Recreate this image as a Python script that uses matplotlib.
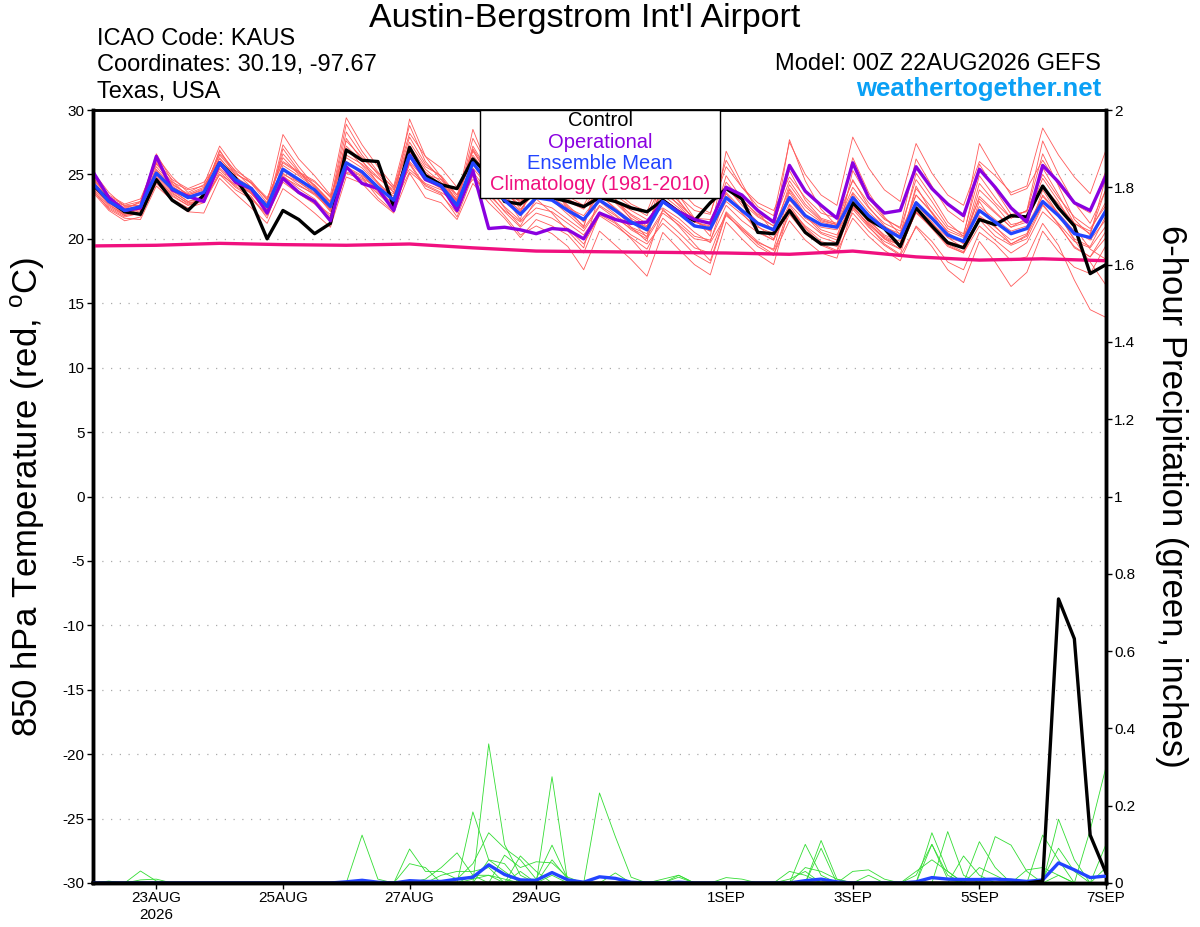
import numpy as np
import matplotlib
matplotlib.use("Agg")
import matplotlib.pyplot as plt
from matplotlib.patches import Rectangle

plt.rcParams['font.family'] = ['Liberation Sans', 'DejaVu Sans']
plt.rcParams['axes.unicode_minus'] = False

# 6-hourly steps from 22AUG 00Z to 7SEP 00Z
steps = np.arange(65)
tick_pos = [4, 12, 20, 28, 40, 48, 56, 64]
tick_lab = ['23AUG\n2026', '25AUG', '27AUG', '29AUG', '1SEP', '3SEP', '5SEP', '7SEP']

# 850 hPa temperature (C)
control_t = [24.2, 23.0, 22.1, 21.9, 24.6, 23.0, 22.2, 23.4, 25.9, 24.7, 22.9, 20.0, 22.2, 21.5, 20.4, 21.2,
             26.9, 26.1, 26.0, 22.5, 27.1, 24.9, 24.2, 23.9, 26.2, 24.9, 22.9, 22.7, 23.6, 23.2, 22.9, 22.5,
             23.2, 22.9, 22.4, 22.1, 23.0, 22.1, 21.4, 22.8, 23.9, 23.1, 20.5, 20.4, 22.2, 20.5, 19.6, 19.6,
             22.8, 21.5, 20.8, 19.4, 22.4, 21.0, 19.7, 19.3, 21.5, 21.1, 21.8, 21.7, 24.1, 22.4, 21.0, 17.3, 18.0]
oper_t = [25.2, 23.2, 22.2, 22.4, 26.4, 23.8, 23.3, 22.9, 25.9, 24.4, 23.9, 22.0, 24.7, 23.6, 22.9, 21.4,
          25.6, 24.3, 23.9, 22.2, 26.5, 24.6, 24.1, 22.2, 25.3, 20.8, 20.9, 20.7, 20.4, 20.8, 20.7, 20.0,
          22.0, 21.5, 21.2, 21.3, 22.9, 22.1, 21.5, 21.2, 24.0, 23.4, 22.2, 21.3, 25.7, 23.7, 22.6, 21.6,
          25.9, 23.2, 22.0, 22.2, 25.6, 23.9, 22.7, 21.8, 25.4, 24.0, 22.4, 21.3, 25.7, 24.4, 22.8, 22.2, 24.9]
mean_t = [24.3, 22.9, 22.2, 22.5, 25.1, 23.9, 23.2, 23.6, 25.9, 24.6, 23.9, 22.5, 25.4, 24.6, 23.8, 22.5,
          25.9, 25.2, 24.0, 23.0, 26.5, 24.7, 24.1, 22.6, 25.9, 24.3, 23.0, 21.9, 23.2, 23.0, 22.2, 21.5,
          23.0, 22.2, 21.3, 20.7, 22.9, 22.0, 21.0, 20.8, 23.2, 22.2, 21.2, 20.7, 23.2, 21.8, 21.1, 20.9,
          23.2, 21.8, 20.8, 20.1, 22.8, 21.6, 20.3, 19.8, 22.2, 21.3, 20.4, 20.8, 22.9, 21.8, 20.4, 20.1, 22.2]
# climatology, daily
clim_steps = np.arange(0, 65, 4)
clim_t = [19.45, 19.5, 19.65, 19.55, 19.5, 19.6, 19.3, 19.05, 19.0, 18.95, 18.9, 18.8, 19.05, 18.6, 18.35, 18.45, 18.3]

members_t = [
    [25.0, 23.3, 22.3, 22.9, 26.4, 24.8, 23.6, 24.2, 27.2, 25.5, 24.3, 22.8, 28.1, 26.2, 24.9, 23.4,
     29.4, 27.3, 25.6, 24.1, 28.8, 26.0, 24.6, 23.0, 27.0, 25.1, 23.4, 22.1, 24.6, 23.9, 22.5, 21.3,
     23.7, 22.8, 21.6, 20.9, 24.1, 22.9, 21.5, 20.6, 24.9, 23.1, 21.8, 21.0, 25.3, 23.0, 21.6, 21.2,
     24.6, 22.5, 21.0, 20.2, 23.4, 22.1, 20.5, 19.6, 23.8, 22.6, 21.1, 21.4, 25.5, 23.4, 21.2, 20.4, 23.9],
    [23.6, 22.2, 21.4, 21.7, 24.3, 23.1, 22.4, 22.8, 25.0, 23.8, 23.1, 21.8, 24.4, 23.5, 22.7, 21.6,
     25.1, 24.6, 23.5, 22.4, 25.8, 23.9, 23.4, 22.0, 25.2, 23.6, 22.1, 20.9, 22.0, 21.6, 20.8, 19.6,
     21.8, 21.0, 20.1, 19.2, 21.6, 20.5, 19.3, 18.9, 22.1, 20.9, 19.8, 19.1, 21.9, 20.4, 19.5, 19.0,
     21.6, 20.2, 19.1, 18.3, 21.0, 19.8, 18.2, 17.6, 20.5, 19.6, 18.3, 18.6, 21.2, 19.5, 16.8, 14.5, 13.9],
    [24.8, 23.1, 22.0, 22.4, 25.6, 24.2, 23.5, 24.0, 26.5, 25.1, 24.3, 23.1, 26.0, 25.2, 24.5, 23.2,
     27.2, 26.0, 24.8, 23.6, 27.5, 25.6, 24.9, 23.4, 26.8, 25.0, 23.9, 22.8, 24.3, 24.0, 23.1, 22.4,
     24.2, 23.4, 22.5, 21.8, 24.5, 23.3, 22.2, 21.9, 26.1, 24.0, 22.5, 21.8, 27.5, 25.0, 23.4, 22.6,
     27.9, 25.5, 23.8, 22.9, 27.4, 25.1, 23.4, 22.6, 26.0, 24.9, 23.6, 24.1, 28.6, 26.5, 24.8, 23.5, 26.9],
    [24.0, 22.8, 22.1, 22.3, 24.6, 23.5, 22.8, 23.0, 25.0, 24.2, 23.6, 22.8, 24.8, 24.1, 23.5, 22.9,
     25.2, 24.7, 24.0, 23.5, 25.4, 24.3, 23.8, 23.1, 24.6, 23.9, 23.4, 23.0, 23.6, 23.5, 23.0, 22.6,
     23.3, 22.9, 22.2, 21.5, 22.4, 21.6, 20.5, 19.7, 21.8, 20.8, 19.6, 18.8, 21.4, 19.9, 18.9, 18.5,
     22.3, 20.9, 19.8, 19.2, 22.1, 20.8, 19.4, 18.9, 21.5, 20.2, 19.5, 20.0, 22.6, 21.2, 19.8, 19.3, 21.0],
    [25.2, 23.6, 22.5, 22.6, 26.6, 24.5, 23.3, 23.5, 26.9, 24.9, 23.6, 22.0, 27.0, 25.3, 23.7, 22.2,
     27.8, 26.1, 24.3, 22.8, 29.3, 26.4, 24.8, 22.9, 28.5, 25.4, 23.3, 21.5, 25.6, 24.1, 22.3, 20.9,
     25.0, 23.1, 21.5, 20.1, 25.6, 23.4, 21.6, 20.2, 26.8, 24.3, 22.1, 20.5, 27.7, 24.5, 22.3, 21.0,
     26.3, 23.6, 21.7, 20.3, 25.1, 23.3, 21.3, 20.2, 25.8, 23.8, 21.9, 22.1, 26.6, 24.1, 21.5, 20.3, 24.8],
    [23.8, 22.3, 21.6, 21.5, 24.1, 23.0, 22.1, 22.0, 24.7, 23.5, 22.4, 21.2, 23.9, 23.0, 22.0, 20.9,
     24.8, 24.3, 23.0, 22.0, 25.1, 23.2, 22.8, 21.5, 24.3, 22.8, 21.6, 20.1, 21.5, 21.0, 20.3, 18.9,
     21.9, 21.2, 20.0, 18.6, 22.3, 21.0, 19.6, 18.3, 22.0, 20.6, 19.4, 18.7, 22.6, 20.9, 19.8, 19.4,
     23.5, 21.5, 20.2, 19.6, 24.1, 22.0, 20.1, 19.3, 22.9, 21.0, 19.6, 20.2, 23.8, 21.9, 20.0, 19.4, 21.8],
    [24.5, 23.0, 22.6, 22.9, 25.8, 24.4, 23.8, 24.1, 26.2, 25.0, 24.4, 23.2, 25.9, 25.1, 24.4, 23.3,
     26.5, 25.8, 24.7, 23.8, 26.3, 25.0, 24.6, 23.4, 26.2, 24.8, 23.8, 22.9, 24.0, 23.6, 22.9, 22.3,
     23.8, 22.9, 21.9, 21.2, 23.6, 22.7, 21.6, 21.5, 23.9, 22.8, 21.7, 21.0, 23.0, 21.6, 20.9, 20.7,
     22.4, 21.2, 20.1, 19.5, 22.0, 20.9, 19.6, 19.0, 21.8, 20.9, 19.9, 20.4, 23.4, 22.0, 20.6, 19.9, 21.5],
    [24.1, 22.6, 21.9, 22.1, 24.9, 23.7, 22.9, 23.3, 25.7, 24.4, 23.7, 22.2, 25.1, 24.2, 23.4, 22.3,
     26.3, 25.5, 24.3, 23.3, 26.9, 24.9, 24.3, 22.9, 25.5, 24.0, 22.5, 21.4, 22.8, 22.4, 21.5, 20.6,
     22.5, 21.6, 20.8, 20.2, 22.2, 21.3, 20.2, 19.9, 22.6, 21.4, 20.5, 19.9, 22.3, 21.0, 20.1, 19.7,
     22.0, 20.6, 19.5, 18.7, 20.9, 19.4, 17.6, 16.6, 19.8, 18.2, 16.3, 17.4, 20.6, 19.0, 17.8, 17.3, 19.5],
    [24.6, 23.2, 22.4, 22.8, 25.3, 24.0, 23.4, 23.9, 26.3, 24.8, 24.0, 22.6, 26.6, 25.2, 24.1, 22.8,
     28.3, 26.5, 25.0, 23.6, 27.9, 25.8, 24.8, 23.2, 26.5, 24.9, 23.6, 22.5, 24.9, 24.2, 23.3, 22.6,
     24.8, 23.7, 22.7, 22.1, 25.2, 23.9, 22.6, 22.0, 25.6, 24.0, 22.8, 22.2, 24.8, 23.2, 22.0, 21.6,
     24.5, 22.8, 21.5, 20.9, 26.2, 24.1, 22.2, 21.3, 27.4, 25.3, 23.4, 23.9, 26.1, 24.2, 22.7, 22.0, 25.3],
    [23.9, 22.5, 21.8, 22.2, 24.8, 23.6, 22.7, 23.1, 25.4, 24.1, 23.3, 21.6, 24.9, 23.9, 23.1, 21.7,
     25.5, 24.8, 23.2, 22.1, 25.9, 24.1, 23.5, 21.7, 24.9, 23.2, 21.8, 20.3, 21.0, 20.4, 19.4, 17.6,
     20.6, 19.5, 18.4, 17.1, 20.5, 19.2, 18.0, 17.2, 21.3, 20.0, 18.8, 18.0, 22.4, 20.8, 19.6, 19.1,
     22.8, 21.4, 20.3, 19.8, 22.4, 21.2, 20.1, 19.7, 23.3, 22.1, 20.9, 21.3, 24.1, 22.7, 21.2, 20.6, 22.9],
    [24.4, 23.0, 22.3, 22.5, 25.4, 24.1, 23.3, 23.7, 26.8, 25.2, 24.0, 22.4, 25.7, 24.9, 24.0, 22.7,
     27.0, 25.7, 24.4, 23.1, 26.0, 24.6, 24.0, 22.5, 26.3, 24.5, 23.2, 22.2, 23.9, 23.2, 22.4, 21.8,
     23.4, 22.4, 21.4, 20.9, 23.1, 22.2, 21.1, 20.6, 22.9, 21.9, 20.9, 20.4, 24.2, 22.5, 21.4, 21.1,
     23.6, 22.1, 20.9, 20.4, 23.4, 22.0, 20.6, 20.1, 22.5, 21.5, 20.6, 21.0, 23.3, 21.9, 19.9, 18.2, 16.4],
    [24.2, 22.7, 21.8, 22.0, 24.7, 23.4, 22.6, 23.2, 25.5, 24.3, 23.5, 22.1, 25.0, 24.4, 23.6, 22.1,
     25.6, 24.9, 23.8, 22.6, 27.0, 25.2, 24.2, 22.8, 27.8, 25.6, 23.9, 22.3, 23.7, 23.0, 21.9, 20.8,
     22.6, 21.8, 20.7, 20.0, 22.0, 21.1, 20.0, 19.8, 23.5, 22.0, 20.6, 19.9, 23.8, 21.9, 20.7, 20.3,
     22.9, 21.3, 20.0, 19.2, 22.1, 21.0, 19.5, 18.9, 21.0, 19.9, 18.9, 19.7, 22.1, 21.0, 19.4, 18.6, 20.6],
    [24.9, 23.4, 22.7, 23.1, 26.0, 24.6, 23.9, 24.4, 26.0, 24.7, 23.5, 22.3, 27.3, 25.6, 24.1, 22.9,
     28.9, 26.8, 25.2, 23.9, 28.2, 26.4, 25.5, 24.0, 25.8, 24.0, 22.4, 21.0, 23.1, 22.0, 20.6, 19.3,
     23.5, 22.3, 20.9, 19.8, 24.8, 23.0, 21.4, 20.7, 23.6, 22.3, 21.0, 20.0, 22.7, 21.4, 20.4, 19.9,
     25.3, 23.2, 21.6, 20.8, 24.6, 22.9, 21.0, 20.4, 24.9, 23.2, 21.6, 22.2, 27.6, 25.0, 22.8, 21.2, 23.8],
    [23.7, 22.4, 21.7, 22.0, 24.5, 23.3, 22.6, 22.9, 25.2, 24.0, 23.2, 21.9, 24.6, 23.6, 22.8, 21.9,
     26.0, 25.1, 23.8, 22.7, 25.2, 24.2, 23.6, 22.8, 26.9, 24.8, 23.1, 22.0, 24.8, 23.9, 22.6, 21.5,
     22.9, 21.9, 20.9, 20.4, 23.4, 22.4, 21.3, 21.0, 24.1, 22.6, 21.3, 20.8, 23.9, 22.2, 21.3, 21.0,
     22.5, 21.1, 20.0, 19.5, 23.9, 22.4, 20.8, 20.2, 23.1, 22.0, 20.9, 21.6, 24.7, 22.9, 20.9, 19.2, 18.4],
    [24.4, 22.8, 21.9, 22.3, 25.1, 23.8, 22.9, 23.1, 25.8, 24.5, 23.8, 22.6, 25.3, 24.4, 23.5, 22.4,
     26.0, 25.0, 23.6, 22.5, 26.8, 24.6, 23.9, 22.4, 25.0, 23.4, 22.2, 21.3, 22.4, 22.1, 21.2, 20.3,
     22.1, 21.3, 20.3, 19.6, 21.2, 20.1, 18.8, 18.1, 21.9, 20.7, 19.7, 19.2, 23.6, 21.8, 20.5, 20.1,
     22.6, 21.0, 19.6, 18.8, 22.7, 21.3, 19.8, 19.4, 21.7, 20.6, 19.6, 20.3, 22.7, 21.1, 19.3, 18.6, 20.1],
    [24.7, 23.3, 22.6, 22.6, 25.9, 24.3, 23.4, 23.8, 26.6, 25.3, 24.5, 23.0, 26.3, 25.0, 24.2, 22.9,
     27.6, 26.3, 25.1, 24.0, 27.2, 25.4, 24.4, 23.0, 27.2, 25.2, 23.7, 22.6, 24.4, 23.3, 22.1, 21.0,
     24.5, 23.1, 21.8, 21.0, 23.9, 22.6, 21.3, 20.9, 24.4, 23.0, 21.9, 21.3, 24.5, 22.7, 21.5, 21.1,
     24.0, 22.4, 21.2, 20.6, 22.9, 21.7, 20.3, 19.9, 24.3, 22.8, 21.6, 22.2, 25.0, 23.2, 21.7, 20.8, 22.6],
]

# 6-hour precipitation (inches), nonzero steps only
control_p = {60: 0.005, 61: 0.735, 62: 0.632, 63: 0.124, 64: 0.026}
mean_p = {16: 0.003, 17: 0.007, 18: 0.002, 20: 0.006, 21: 0.004, 22: 0.004, 23: 0.01, 24: 0.015,
          25: 0.047, 26: 0.022, 27: 0.008, 28: 0.007, 29: 0.027, 30: 0.008, 31: 0.002, 32: 0.016,
          33: 0.012, 34: 0.002, 37: 0.002, 45: 0.006, 46: 0.01, 47: 0.003, 52: 0.003, 53: 0.014,
          54: 0.01, 55: 0.009, 56: 0.009, 57: 0.01, 58: 0.008, 59: 0.004, 60: 0.008, 61: 0.052,
          62: 0.034, 63: 0.014, 64: 0.018}
members_p = [
    {3: 0.031, 4: 0.005, 25: 0.36, 26: 0.10, 27: 0.02, 32: 0.233, 33: 0.12, 34: 0.015, 61: 0.02},
    {17: 0.124, 18: 0.01, 24: 0.184, 25: 0.06, 26: 0.03, 29: 0.02, 45: 0.10, 46: 0.02, 53: 0.13, 54: 0.03},
    {20: 0.088, 21: 0.03, 22: 0.03, 23: 0.01, 24: 0.05, 25: 0.13, 26: 0.09, 27: 0.06, 28: 0.01,
     29: 0.098, 30: 0.01, 46: 0.11, 47: 0.01, 54: 0.133, 55: 0.02},
    {21: 0.01, 22: 0.04, 23: 0.078, 24: 0.02, 26: 0.072, 27: 0.04, 28: 0.055, 29: 0.052, 30: 0.015,
     37: 0.02, 46: 0.09, 55: 0.07, 56: 0.02, 60: 0.124, 61: 0.06},
    {22: 0.02, 23: 0.03, 24: 0.03, 25: 0.04, 27: 0.03, 29: 0.275, 44: 0.01, 45: 0.03, 48: 0.03,
     49: 0.034, 50: 0.01, 56: 0.107, 57: 0.04, 63: 0.137, 64: 0.3},
    {20: 0.05, 21: 0.04, 24: 0.02, 25: 0.02, 27: 0.07, 28: 0.03, 33: 0.026, 37: 0.015, 40: 0.014,
     41: 0.01, 53: 0.1, 54: 0.02, 57: 0.12, 58: 0.098, 59: 0.03, 61: 0.165, 62: 0.06, 64: 0.1},
    {1: 0.005, 3: 0.008, 4: 0.01, 25: 0.06, 26: 0.05, 29: 0.06, 30: 0.01, 36: 0.01, 37: 0.02,
     45: 0.04, 46: 0.03, 47: 0.01, 52: 0.03, 53: 0.06, 54: 0.03, 59: 0.034, 60: 0.04, 61: 0.02, 64: 0.04},
    {24: 0.01, 25: 0.02, 26: 0.01, 44: 0.03, 45: 0.02, 49: 0.02, 52: 0.02, 53: 0.1, 54: 0.01,
     56: 0.04, 57: 0.02, 60: 0.01, 61: 0.09, 62: 0.03},
]


def series(d):
    s = np.zeros(len(steps))
    for k, v in d.items():
        s[k] = v
    return s


c_red = '#ff5a5a'
c_green = '#33dd33'
c_oper = '#8a00e0'
c_mean = '#2244ff'
c_clim = '#f0107f'

fig = plt.figure(figsize=(12, 9.27), dpi=100)
ax = fig.add_axes([93 / 1200, 1 - 883 / 927, 1013 / 1200, 773 / 927])
ax2 = ax.twinx()

for m in members_t:
    ax.plot(steps, m, color=c_red, lw=0.6, zorder=2)
ax.plot(clim_steps, clim_t, color=c_clim, lw=2.4, zorder=3)
ax.plot(steps, control_t, color='black', lw=2.4, zorder=4)
ax.plot(steps, oper_t, color=c_oper, lw=2.4, zorder=5)
ax.plot(steps, mean_t, color=c_mean, lw=2.4, zorder=6)

for m in members_p:
    ax2.plot(steps, series(m), color=c_green, lw=0.6, zorder=2)
ax2.plot(steps, series(mean_p), color=c_mean, lw=2.4, zorder=3)
ax2.plot(steps, series(control_p), color='black', lw=2.4, zorder=4, clip_on=False)

ax.set_xlim(0, 64)
ax.set_ylim(-30, 30)
ax2.set_ylim(0, 2)
ax.set_yticks(np.arange(-30, 31, 5))
ax2.set_yticks(np.arange(0, 2.01, 0.2))
ax2.set_yticklabels(['0', '0.2', '0.4', '0.6', '0.8', '1', '1.2', '1.4', '1.6', '1.8', '2'])
ax.set_xticks(tick_pos)
ax.set_xticklabels(tick_lab)

for g in range(-25, 30, 5):
    ax.axhline(g, color='#aaaaaa', lw=0.9, ls=(0, (1, 6)), zorder=1)

ax.tick_params(axis='both', labelsize=11, length=4, width=1, direction='out', pad=2)
ax2.tick_params(axis='y', labelsize=11, length=4, width=1, direction='out', pad=2)
for a in (ax, ax2):
    a.spines['left'].set_linewidth(2.5)
    a.spines['right'].set_linewidth(2.5)
    a.spines['top'].set_linewidth(1.8)
    a.spines['bottom'].set_linewidth(2.5)

ax.set_ylabel('850 hPa Temperature (red, $^{\\mathregular{o}}$C)', fontsize=25, va='center')
ax.yaxis.set_label_coords(-0.064, 0.5)
ax2.set_ylabel('6-hour Precipitation (green, inches)', fontsize=25, rotation=270, va='center')
ax2.yaxis.set_label_coords(1.065, 0.5)

# legend box
ax2.add_patch(Rectangle((0.382, 0.886), 0.237, 0.114, transform=ax2.transAxes,
                        facecolor='white', edgecolor='black', lw=1.0, zorder=10))
leg_items = [('Control', 'black'), ('Operational', c_oper),
             ('Ensemble Mean', c_mean), ('Climatology (1981-2010)', c_clim)]
for k, (txt, col) in enumerate(leg_items):
    ax2.text(0.5005, 0.986 - k * 0.0275, txt, color=col, fontsize=14.5, ha='center', va='center',
             transform=ax2.transAxes, zorder=11)

fig.text(585 / 1200, 1 - 18 / 927, "Austin-Bergstrom Int'l Airport", fontsize=24.5, ha='center', va='center')
fig.text(97 / 1200, 1 - 39 / 927, 'ICAO Code: KAUS', fontsize=17, ha='left', va='center')
fig.text(97 / 1200, 1 - 65 / 927, 'Coordinates: 30.19, -97.67', fontsize=17, ha='left', va='center')
fig.text(97 / 1200, 1 - 92 / 927, 'Texas, USA', fontsize=17, ha='left', va='center')
fig.text(1101 / 1200, 1 - 64 / 927, 'Model: 00Z 22AUG2026 GEFS', fontsize=17, ha='right', va='center')
fig.text(1101 / 1200, 1 - 89 / 927, 'weathertogether.net', fontsize=18.5, fontweight='bold',
         color='#0aa0f5', ha='right', va='center')

fig.savefig('out.png', dpi=100)
